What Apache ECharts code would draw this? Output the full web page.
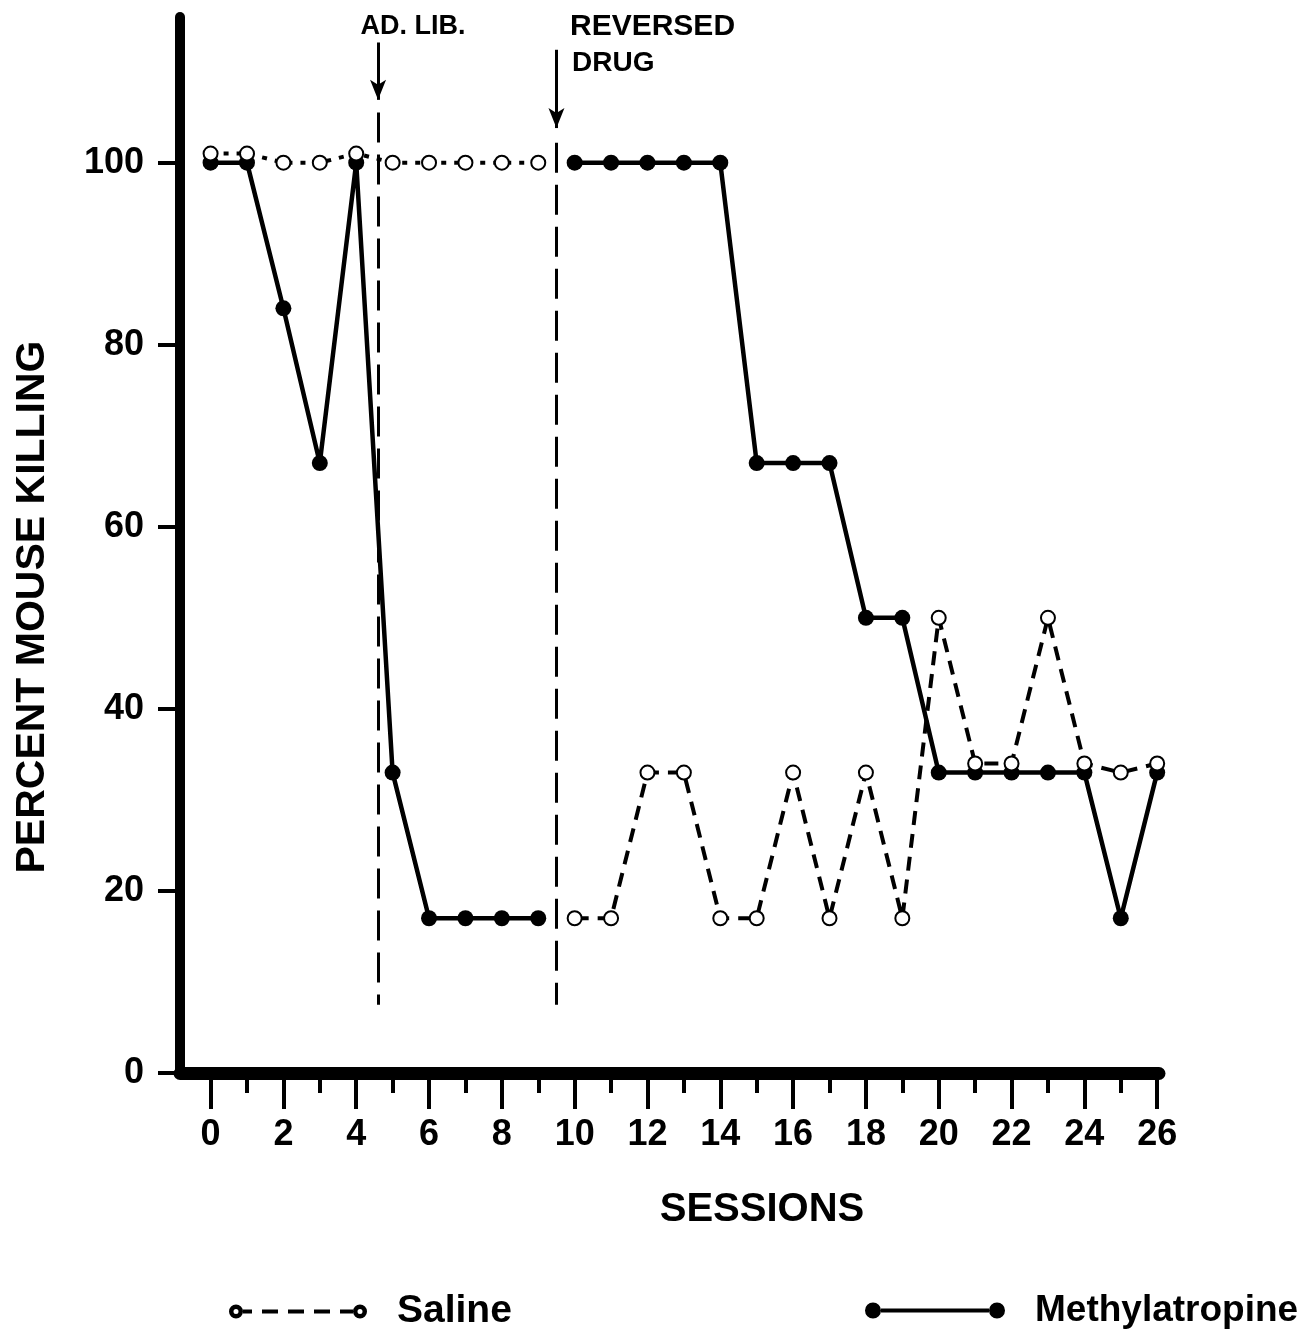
<!DOCTYPE html>
<html>
<head>
    <meta charset="utf-8">
    <title>Percent mouse killing</title>
    <style>
        body { margin: 0; background: #fff; }
    </style>
</head>
<body>
    <div id="main" style="width: 1313px;height:1332px;"></div>
<script src="https://cdn.jsdelivr.net/npm/echarts@6/dist/echarts.min.js"></script>
<script>
// sessions 0..26
var sessions = [0, 1, 2, 3, 4, 5, 6, 7, 8, 9, 10, 11, 12, 13, 14, 15, 16, 17, 18, 19, 20, 21, 22, 23, 24, 25, 26];
var methylatropine = [100, 100, 84, 67, 100, 33, 17, 17, 17, 17, 100, 100, 100, 100, 100, 67, 67, 67, 50, 50, 33, 33, 33, 33, 33, 17, 33];
var saline = [101, 101, 100, 100, 101, 100, 100, 100, 100, 100, 17, 17, 33, 33, 17, 17, 33, 17, 33, 17, 50, 34, 34, 50, 34, 33, 34];
var splitAt = 10; // reversed drug from session 10 on

var xMajorTicks = [0, 2, 4, 6, 8, 10, 12, 14, 16, 18, 20, 22, 24, 26];
var xMinorTicks = [1, 3, 5, 7, 9, 11, 13, 15, 17, 19, 21, 23, 25];
var yTicks = [0, 20, 40, 60, 80, 100];

// phase markers: [session, arrow top, arrow tip, dashed top, dashed bottom]
var adLib = [4.6, 113.2, 106.9, 105.5, 7.5];
var reversed = [9.5, 112.4, 103.8, 102.2, 7.5];

var FONT = 'Liberation Sans';

function pairs(xs, ys, from, to) {
    var out = [];
    for (var i = from; i < to; i++) out.push([xs[i], ys[i]]);
    return out;
}

var salinePath = 'path://M1,10 A7,7 0 1 1 15,10 A7,7 0 1 1 1,10 Z M5.5,10 A2.5,2.5 0 1 0 10.5,10 A2.5,2.5 0 1 0 5.5,10 Z' +
    ' M15,8 H24 V12 H15 Z M34,8 H50 V12 H34 Z M60,8 H76 V12 H60 Z M86,8 H102 V12 H86 Z M112,8 H125 V12 H112 Z' +
    ' M125,10 A7,7 0 1 1 139,10 A7,7 0 1 1 125,10 Z M129.5,10 A2.5,2.5 0 1 0 134.5,10 A2.5,2.5 0 1 0 129.5,10 Z';
var methylPath = 'path://M0,10 A8,8 0 1 1 16,10 A8,8 0 1 1 0,10 Z M124,10 A8,8 0 1 1 140,10 A8,8 0 1 1 124,10 Z M16,8 H124 V12 H16 Z';

var myChart = echarts.init(document.getElementById('main'));

var salineStyle = {
    type: 'line',
    name: 'Saline',
    symbol: 'emptyCircle',
    symbolSize: 14,
    itemStyle: { color: '#000', borderWidth: 4 },
    z: 3
};
var methylStyle = {
    type: 'line',
    name: 'Methylatropine',
    symbol: 'circle',
    symbolSize: 16,
    itemStyle: { color: '#000' },
    lineStyle: { color: '#000', width: 4.5 },
    z: 2
};

myChart.setOption({
    animation: false,
    backgroundColor: '#fff',
    textStyle: { fontFamily: FONT, color: '#000' },
    grid: {
        left: 180,
        right: 154,
        top: 17,
        bottom: 259
    },
    legend: [{
        data: [{ name: 'Saline', icon: salinePath }],
        left: 229,
        top: 1292,
        padding: 0,
        itemWidth: 138,
        itemHeight: 14,
        itemStyle: { color: '#000', borderWidth: 0 },
        textStyle: { fontSize: 39, fontWeight: 'bold', fontFamily: FONT, color: '#000', padding: [0, 0, 0, 25] },
        selectedMode: false
    }, {
        data: [{ name: 'Methylatropine', icon: methylPath }],
        left: 865,
        top: 1292,
        padding: 0,
        itemWidth: 140,
        itemHeight: 16,
        itemStyle: { color: '#000', borderWidth: 0 },
        textStyle: { fontSize: 37, fontWeight: 'bold', fontFamily: FONT, color: '#000', padding: [0, 0, 0, 25] },
        selectedMode: false
    }],
    xAxis: [{
        type: 'value',
        min: -0.84,
        max: 26.05,
        position: 'bottom',
        splitLine: { show: false },
        axisLine: { onZero: false, lineStyle: { color: '#000', width: 13 } },
        axisTick: { customValues: xMajorTicks, length: 36, lineStyle: { color: '#000', width: 4 } },
        axisLabel: { customValues: xMajorTicks, fontSize: 36, fontWeight: 'bold', fontFamily: FONT, color: '#000', margin: 44 }
    }, {
        type: 'value',
        min: -0.84,
        max: 26.05,
        position: 'bottom',
        splitLine: { show: false },
        axisLine: { show: false },
        axisTick: { customValues: xMinorTicks, length: 20, lineStyle: { color: '#000', width: 4 } },
        axisLabel: { show: false }
    }],
    yAxis: {
        type: 'value',
        min: 0,
        max: 116,
        splitLine: { show: false },
        axisLine: { onZero: false, lineStyle: { color: '#000', width: 10 } },
        axisTick: { customValues: yTicks, length: 22, lineStyle: { color: '#000', width: 4 } },
        axisLabel: { customValues: yTicks, fontSize: 36, fontWeight: 'bold', fontFamily: FONT, color: '#000', margin: 36 }
    },
    graphic: [
        { type: 'text', x: 33, y: 607, rotation: Math.PI / 2,
          style: { text: 'PERCENT MOUSE KILLING', font: 'bold 41px "Liberation Sans"', fill: '#000', align: 'center', verticalAlign: 'middle' } },
        { type: 'text', x: 762, y: 1210,
          style: { text: 'SESSIONS', font: 'bold 40px "Liberation Sans"', fill: '#000', align: 'center', verticalAlign: 'middle' } },
        { type: 'text', x: 413, y: 27,
          style: { text: 'AD. LIB.', font: 'bold 27px "Liberation Sans"', fill: '#000', align: 'center', verticalAlign: 'middle' } },
        { type: 'text', x: 570, y: 27,
          style: { text: 'REVERSED', font: 'bold 30px "Liberation Sans"', fill: '#000', align: 'left', verticalAlign: 'middle' } },
        { type: 'text', x: 572, y: 63,
          style: { text: 'DRUG', font: 'bold 28px "Liberation Sans"', fill: '#000', align: 'left', verticalAlign: 'middle' } }
    ],
    series: [
        Object.assign({}, salineStyle, {
            data: pairs(sessions, saline, 0, splitAt),
            lineStyle: { color: '#000', width: 4, type: [5, 8] }
        }),
        Object.assign({}, salineStyle, {
            data: pairs(sessions, saline, splitAt, sessions.length),
            lineStyle: { color: '#000', width: 4, type: [14, 9] }
        }),
        Object.assign({}, methylStyle, { data: pairs(sessions, methylatropine, 0, splitAt) }),
        Object.assign({}, methylStyle, { data: pairs(sessions, methylatropine, splitAt, sessions.length) }),
        {
            // arrows over the phase changes
            type: 'line',
            name: 'arrows',
            data: [],
            silent: true,
            markLine: {
                silent: true,
                symbol: ['none', 'arrow'],
                symbolSize: [12, 20],
                label: { show: false },
                lineStyle: { color: '#000', width: 3, type: 'solid' },
                emphasis: { disabled: true },
                data: [
                    [{ coord: [adLib[0], adLib[1]] }, { coord: [adLib[0], adLib[2]] }],
                    [{ coord: [reversed[0], reversed[1]] }, { coord: [reversed[0], reversed[2]] }]
                ]
            }
        },
        {
            // dashed phase boundaries
            type: 'line',
            name: 'phases',
            data: [],
            silent: true,
            markLine: {
                silent: true,
                symbol: ['none', 'none'],
                label: { show: false },
                lineStyle: { color: '#000', width: 3, type: [30, 12] },
                emphasis: { disabled: true },
                data: [
                    [{ coord: [adLib[0], adLib[3]] }, { coord: [adLib[0], adLib[4]] }],
                    [{ coord: [reversed[0], reversed[3]] }, { coord: [reversed[0], reversed[4]] }]
                ]
            }
        }
    ]
});
</script>
</body>
</html>
